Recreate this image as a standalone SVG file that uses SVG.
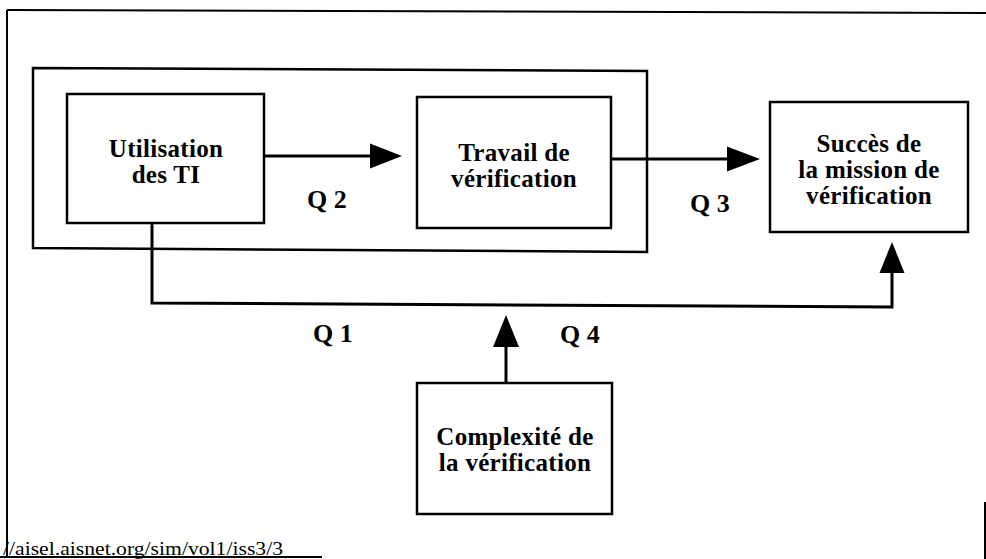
<svg xmlns="http://www.w3.org/2000/svg" width="986" height="559" viewBox="0 0 986 559">
<style>
.box{fill:#fff;stroke:#000;stroke-width:2.5}
.lbl{font-family:'Liberation Serif','DejaVu Serif',serif;font-weight:bold;font-size:25px;fill:#000;text-anchor:middle;letter-spacing:0.3px}
.q{font-family:'Liberation Serif','DejaVu Serif',serif;font-weight:bold;font-size:26px;fill:#000}
.con{fill:none;stroke:#000;stroke-width:3}
.head{fill:#000;stroke:none}
.frame{stroke:#000;stroke-width:2;fill:none}
</style>
<rect width="986" height="559" fill="#fff"/>
<g id="frame">
<line class="frame" x1="7" y1="10" x2="986" y2="13"/>
<line class="frame" x1="7" y1="10" x2="7" y2="557"/>
<line class="frame" x1="0" y1="557" x2="322" y2="557"/>
<line class="frame" x1="985" y1="502" x2="985" y2="559"/>
</g>
<g id="container">
<polygon class="box" points="33,68 647,71 647,252 33,248"/>
</g>
<g id="utilisation">
<rect class="box" x="67" y="94" width="197" height="129"/>
<text class="lbl" x="166" y="157">Utilisation</text>
<text class="lbl" x="166" y="183">des TI</text>
</g>
<g id="travail">
<rect class="box" x="417" y="97" width="194" height="131"/>
<text class="lbl" x="514" y="161">Travail de</text>
<text class="lbl" x="514" y="187">vérification</text>
</g>
<g id="succes">
<rect class="box" x="770" y="102" width="198" height="130"/>
<text class="lbl" x="869" y="152">Succès de</text>
<text class="lbl" x="869" y="178">la mission de</text>
<text class="lbl" x="869" y="204">vérification</text>
</g>
<g id="complexite">
<rect class="box" x="417" y="383" width="195" height="131"/>
<text class="lbl" x="515" y="445">Complexité de</text>
<text class="lbl" x="515" y="471">la vérification</text>
</g>
<g id="connectors">
<line class="con" x1="264" y1="156" x2="372" y2="156"/>
<polygon class="head" points="370,143.5 402,156 370,168.5"/>
<line class="con" x1="611" y1="159" x2="729" y2="159"/>
<polygon class="head" points="727,146.5 760,159 727,171.5"/>
<polyline class="con" points="152,223 152,303 892,307 892,271"/>
<polygon class="head" points="879.5,273 892,242 904.5,273"/>
<line class="con" x1="506" y1="384" x2="506" y2="345"/>
<polygon class="head" points="493,347 506,315 519,347"/>
</g>
<g id="labels">
<text class="q" x="307" y="208">Q 2</text>
<text class="q" x="690" y="212">Q 3</text>
<text class="q" x="313" y="342">Q 1</text>
<text class="q" x="560" y="343">Q 4</text>
</g>
<text x="3" y="555" font-family="'Liberation Serif','DejaVu Serif',serif" font-size="19" textLength="280" lengthAdjust="spacingAndGlyphs" fill="#000">//aisel.aisnet.org/sim/vol1/iss3/3</text>
</svg>
